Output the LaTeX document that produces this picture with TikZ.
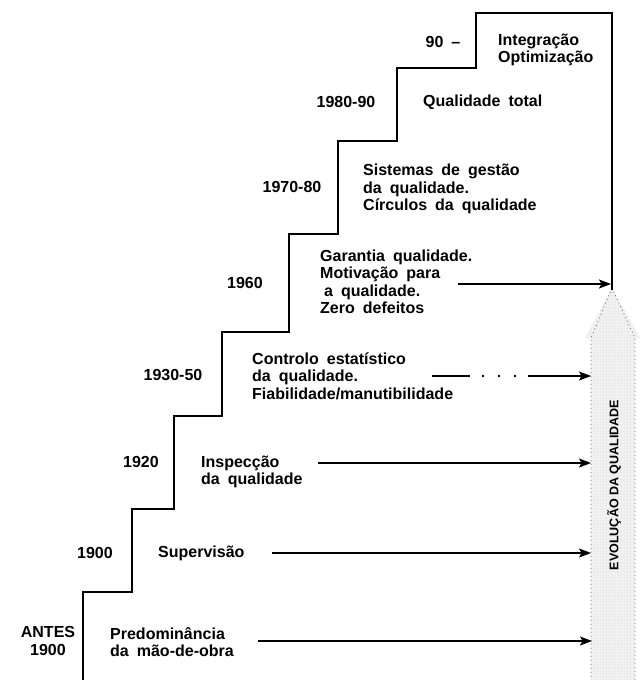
\documentclass[tikz,border=0pt]{standalone}
\usepackage{fontspec}
\setmainfont{Liberation Sans}[WordSpace=1.8]
\newfontfamily\bandfont{Liberation Sans}
\usetikzlibrary{arrows.meta,patterns}
\begin{document}
\begin{tikzpicture}[x=1pt,y=-1pt,
  stair/.style={line width=1.4pt, line join=miter},
  yr/.style={font=\bfseries\fontsize{16}{17.5}\selectfont, inner sep=0pt, align=center},
  txt/.style={font=\bfseries\fontsize{16}{17.5}\selectfont, inner sep=0pt, anchor=west, align=left},
  arr/.style={line width=1.1pt, -{Stealth[length=12pt,width=9pt,inset=2.5pt]}},
  band/.style={fill=black!5},
  bandtex/.style={pattern=dots, pattern color=black!22},
  bandedge/.style={draw=black!55, line width=0.8pt, dash pattern=on 1pt off 3pt},
]
\useasboundingbox (0,0) rectangle (640,680);

% broad shaded arrow on the right
\coordinate (b0) at (612,288);
\coordinate (b1) at (640,338);
\coordinate (b2) at (635,338);
\coordinate (b3) at (635,680);
\coordinate (b4) at (591,680);
\coordinate (b5) at (591,338);
\coordinate (b6) at (585,338);
\path[band] (b0) -- (b1) -- (b2) -- (b3) -- (b4) -- (b5) -- (b6) -- cycle;
\path[bandtex] (b0) -- (b1) -- (b2) -- (b3) -- (b4) -- (b5) -- (b6) -- cycle;
\path[bandedge] (b0) -- (b5) -- (b4);
\path[bandedge] (b0) -- (b2) -- (b3);
\node[rotate=90, font=\bandfont\bfseries\fontsize{12.5}{12.5}\selectfont, inner sep=0pt] (evo) at (614,485) {EVOLUÇÃO DA QUALIDADE};

% staircase corners
\coordinate (s0) at (83,680);
\coordinate (s1) at (83,592);
\coordinate (s2) at (132,592);
\coordinate (s3) at (132,509);
\coordinate (s4) at (174,509);
\coordinate (s5) at (174,416);
\coordinate (s6) at (222,416);
\coordinate (s7) at (222,332);
\coordinate (s8) at (289,332);
\coordinate (s9) at (289,234);
\coordinate (s10) at (338,234);
\coordinate (s11) at (338,141);
\coordinate (s12) at (397,141);
\coordinate (s13) at (397,68);
\coordinate (s14) at (476,68);
\coordinate (s15) at (476,13);
\coordinate (s16) at (612,13);
\coordinate (s17) at (612,290);
\draw[stair] (s0) -- (s1) -- (s2) -- (s3) -- (s4) -- (s5) -- (s6) -- (s7) -- (s8)
  -- (s9) -- (s10) -- (s11) -- (s12) -- (s13) -- (s14) -- (s15) -- (s16) -- (s17);

% periods
\node[yr] (y90) at (443,42) {90 –};
\node[yr] (y80) at (346,102) {1980-90};
\node[yr] (y70) at (292,187) {1970-80};
\node[yr] (y60) at (245,283) {1960};
\node[yr] (y30) at (173,375) {1930-50};
\node[yr] (y20) at (141,462) {1920};
\node[yr] (y00) at (95,553) {1900};
\node[yr] (yan) at (48,641) {ANTES\\1900};

% stages
\node[txt] (t90) at (498,50) {Integração\\Optimização};
\node[txt] (t80) at (423,102) {Qualidade total};
\node[txt] (t70) at (363,189) {Sistemas de gestão\\da qualidade.\\Círculos da qualidade};
\node[txt] (t60) at (320,282) {Garantia qualidade.\\Motivação para\\\hspace*{4pt}a qualidade.\\Zero defeitos};
\node[txt] (t30) at (252,376) {Controlo estatístico\\da qualidade.\\Fiabilidade/manutibilidade};
\node[txt] (t20) at (201,472) {Inspecção\\da qualidade};
\node[txt] (t00) at (158,553) {Supervisão};
\node[txt] (tan) at (110,642) {Predominância\\da mão-de-obra};

% arrows towards the shaded band
\coordinate (a60s) at (458,284);  \coordinate (a60e) at (611,284);
\coordinate (a30s) at (432,376);  \coordinate (a30e) at (591,376);
\coordinate (a20s) at (318,463);  \coordinate (a20e) at (591,463);
\coordinate (a00s) at (272,553);  \coordinate (a00e) at (591,553);
\coordinate (ans) at (258,641);   \coordinate (ane) at (592,641);
\draw[arr] (a60s) -- (a60e);
\draw[arr, dash pattern=on 38pt off 12pt on 2pt off 14pt on 2pt off 14pt on 2pt off 12pt on 90pt] (a30s) -- (a30e);
\draw[arr] (a20s) -- (a20e);
\draw[arr] (a00s) -- (a00e);
\draw[arr] (ans) -- (ane);
\end{tikzpicture}
\end{document}
